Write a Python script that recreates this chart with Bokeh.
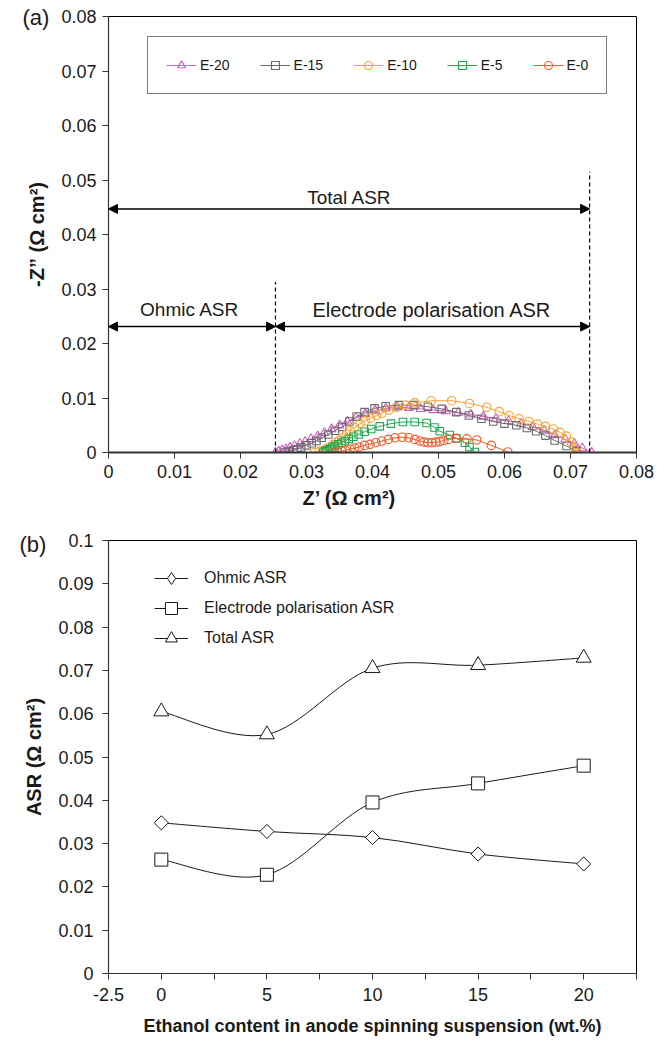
import numpy as np
from bokeh.plotting import figure
from bokeh.layouts import column
from bokeh.models import (ColumnDataSource, FixedTicker, Legend, LegendItem, Label,
                          Arrow, NormalHead, Range1d, Title)
from bokeh.embed import file_html
from bokeh.resources import INLINE

FONT = "Liberation Sans"

# ---------------- (a) impedance spectra: Z' and -Z'' (ohm cm2) ----------------
E20_ZRE = [0.0253, 0.0258, 0.0263, 0.0269, 0.0275, 0.0282, 0.0290, 0.0298, 0.0307, 0.0317,
           0.0327, 0.0338, 0.0350, 0.0362, 0.0375, 0.0389, 0.0404, 0.0420, 0.0437, 0.0455,
           0.0473, 0.0492, 0.0511, 0.0530, 0.0549, 0.0568, 0.0587, 0.0606, 0.0625, 0.0643,
           0.0660, 0.0676, 0.0692, 0.0706, 0.0718, 0.0732]
E20_ZIM = [0.0000, 0.0002, 0.0004, 0.0006, 0.0009, 0.0012, 0.0016, 0.0020, 0.0025, 0.0030,
           0.0036, 0.0043, 0.0050, 0.0057, 0.0064, 0.0071, 0.0077, 0.0081, 0.0083, 0.0082,
           0.0080, 0.0078, 0.0076, 0.0073, 0.0070, 0.0066, 0.0062, 0.0058, 0.0053, 0.0047,
           0.0040, 0.0032, 0.0024, 0.0016, 0.0008, 0.0000]

E15_ZRE = [0.0267, 0.0273, 0.0280, 0.0286, 0.0292, 0.0300, 0.0308, 0.0315, 0.0323, 0.0333,
           0.0343, 0.0354, 0.0365, 0.0376, 0.0388, 0.0403, 0.0420, 0.0440, 0.0462, 0.0484,
           0.0505, 0.0527, 0.0546, 0.0565, 0.0583, 0.0600, 0.0618, 0.0634, 0.0648, 0.0662,
           0.0676, 0.0694, 0.0709]
E15_ZIM = [0.0000, 0.0002, 0.0004, 0.0006, 0.0009, 0.0013, 0.0017, 0.0021, 0.0027, 0.0033,
           0.0040, 0.0047, 0.0057, 0.0066, 0.0074, 0.0081, 0.0085, 0.0087, 0.0087, 0.0084,
           0.0080, 0.0074, 0.0068, 0.0062, 0.0057, 0.0053, 0.0050, 0.0045, 0.0039, 0.0031,
           0.0022, 0.0012, 0.0002]

E10_ZRE = [0.0313, 0.0319, 0.0325, 0.0330, 0.0335, 0.0340, 0.0345, 0.0350, 0.0356, 0.0361,
           0.0366, 0.0373, 0.0381, 0.0389, 0.0397, 0.0406, 0.0414, 0.0425, 0.0436, 0.0450,
           0.0464, 0.0489, 0.0520, 0.0547, 0.0573, 0.0592, 0.0607, 0.0622, 0.0637, 0.0650,
           0.0662, 0.0674, 0.0684, 0.0694, 0.0701, 0.0705, 0.0710]
E10_ZIM = [0.0000, 0.0002, 0.0004, 0.0007, 0.0010, 0.0014, 0.0019, 0.0023, 0.0028, 0.0034,
           0.0040, 0.0046, 0.0053, 0.0058, 0.0063, 0.0068, 0.0072, 0.0078, 0.0083, 0.0087,
           0.0091, 0.0095, 0.0095, 0.0090, 0.0083, 0.0075, 0.0068, 0.0062, 0.0057, 0.0052,
           0.0048, 0.0043, 0.0037, 0.0030, 0.0019, 0.0010, 0.0000]

E5_ZRE = [0.0325, 0.0328, 0.0331, 0.0335, 0.0339, 0.0343, 0.0348, 0.0353, 0.0358, 0.0364,
          0.0371, 0.0379, 0.0388, 0.0398, 0.0411, 0.0428, 0.0446, 0.0464, 0.0482, 0.0494,
          0.0502, 0.0517, 0.0527, 0.0540, 0.0547, 0.0555]
E5_ZIM = [0.0000, 0.0002, 0.0004, 0.0006, 0.0009, 0.0012, 0.0015, 0.0018, 0.0021, 0.0025,
          0.0029, 0.0033, 0.0038, 0.0043, 0.0048, 0.0053, 0.0056, 0.0056, 0.0054, 0.0046,
          0.0039, 0.0032, 0.0026, 0.0018, 0.0010, 0.0001]

E0_ZRE = [0.0342, 0.0347, 0.0353, 0.0359, 0.0366, 0.0373, 0.0380, 0.0388, 0.0396, 0.0405,
          0.0414, 0.0424, 0.0434, 0.0445, 0.0455, 0.0464, 0.0472, 0.0478, 0.0484, 0.0490,
          0.0496, 0.0502, 0.0508, 0.0515, 0.0527, 0.0543, 0.0558, 0.0580, 0.0605]
E0_ZIM = [0.0000, 0.0001, 0.0003, 0.0004, 0.0006, 0.0008, 0.0010, 0.0013, 0.0015, 0.0018,
          0.0021, 0.0024, 0.0027, 0.0028, 0.0027, 0.0024, 0.0021, 0.0019, 0.0018, 0.0018,
          0.0019, 0.0020, 0.0022, 0.0024, 0.0026, 0.0025, 0.0023, 0.0013, 0.0001]

A_TICKS = [0.0, 0.01, 0.02, 0.03, 0.04, 0.05, 0.06, 0.07, 0.08]
A_TICK_LABELS = ["0", "0.01", "0.02", "0.03", "0.04", "0.05", "0.06", "0.07", "0.08"]

# ---------------- (b) ASR versus ethanol content ----------------
ETHANOL = [0, 5, 10, 15, 20]
OHMIC_ASR = [0.0348, 0.0328, 0.0314, 0.0276, 0.0253]
ELECTRODE_ASR = [0.0263, 0.0228, 0.0395, 0.0439, 0.0480]
TOTAL_ASR = [0.0605, 0.0552, 0.0705, 0.0712, 0.0729]

B_X_TICKS = [-2.5, 0.0, 2.5, 5.0, 7.5, 10.0, 12.5, 15.0, 17.5, 20.0, 22.5]
B_X_LABELS = ["-2.5", "0", "", "5", "", "10", "", "15", "", "20", ""]
B_Y_TICKS = [0.0, 0.01, 0.02, 0.03, 0.04, 0.05, 0.06, 0.07, 0.08, 0.09, 0.1]
B_Y_LABELS = ["0", "0.01", "0.02", "0.03", "0.04", "0.05", "0.06", "0.07", "0.08", "0.09", "0.1"]


def style_axes(p, tick_size, xtitle_size, ytitle_size):
    for ax, tsize in ((p.xaxis[0], xtitle_size), (p.yaxis[0], ytitle_size)):
        ax.axis_line_color = "#333333"
        ax.axis_line_width = 1.2
        ax.major_tick_line_color = "#333333"
        ax.major_tick_out = 6
        ax.major_tick_in = 0
        ax.minor_tick_out = 0
        ax.minor_tick_in = 0
        ax.major_label_text_font = FONT
        ax.major_label_text_font_size = tick_size
        ax.major_label_text_color = "#1a1a1a"
        ax.axis_label_text_font = FONT
        ax.axis_label_text_font_style = "bold"
        ax.axis_label_text_font_size = tsize
        ax.axis_label_text_color = "#1a1a1a"
    p.xgrid.visible = False
    p.ygrid.visible = False
    p.outline_line_color = "black"
    p.outline_line_width = 1


def panel_tag(p, text, offset, standoff):
    # tag sits in the top border, to the left of the frame
    p.add_layout(Title(text=text, align="left", offset=offset, standoff=standoff,
                       vertical_align="bottom", text_font=FONT, text_font_size="22px",
                       text_font_style="normal", text_color="#1a1a1a"), "above")


# ================= panel (a) =================
pa = figure(width=666, height=525, output_backend="svg", toolbar_location=None,
            x_range=Range1d(0, 0.08), y_range=Range1d(0, 0.08),
            min_border_left=107, min_border_right=30, min_border_top=16, min_border_bottom=73,
            y_axis_label="-Z” (Ω cm²)")
style_axes(pa, "18px", "20px", "20px")
pa.xaxis[0].major_label_standoff = 6
pa.yaxis[0].major_label_standoff = 6
pa.yaxis[0].axis_label_standoff = 10
pa.xaxis[0].ticker = FixedTicker(ticks=A_TICKS)
pa.yaxis[0].ticker = FixedTicker(ticks=A_TICKS)
pa.xaxis[0].major_label_overrides = dict(zip(A_TICKS, A_TICK_LABELS))
pa.yaxis[0].major_label_overrides = dict(zip(A_TICKS, A_TICK_LABELS))
pa.xaxis[0].axis_line_width = 2
# x title, set a little left of the frame centre
pa.add_layout(Title(text="Z’ (Ω cm²)", align="left", offset=194, standoff=12,
                    vertical_align="top", text_font=FONT, text_font_size="20px",
                    text_font_style="bold", text_color="#1a1a1a"), "below")

series_a = [
    ("E-20", E20_ZRE, E20_ZIM, "#cf5fbf", "triangle", 9),
    ("E-15", E15_ZRE, E15_ZIM, "#6a6a6a", "square", 7.5),
    ("E-10", E10_ZRE, E10_ZIM, "#f7a130", "circle", 8.5),
    ("E-5", E5_ZRE, E5_ZIM, "#1fa851", "square", 7.5),
    ("E-0", E0_ZRE, E0_ZIM, "#f15a29", "circle", 8.5),
]
items_a = []
for name, zre, zim, col, marker, size in series_a:
    src = ColumnDataSource(dict(x=zre, y=zim))
    ln = pa.line("x", "y", source=src, line_color=col, line_width=1)
    sc = pa.scatter("x", "y", source=src, marker=marker, size=size,
                    line_color=col, fill_color=None, line_width=1.1)
    items_a.append(LegendItem(label=name, renderers=[ln, sc]))

leg_a = Legend(items=items_a, orientation="horizontal", location=(39, 358),
               border_line_color="black", border_line_width=1, padding=18, margin=0,
               spacing=30, glyph_width=30, glyph_height=20, label_standoff=4,
               label_text_font=FONT, label_text_font_size="14px",
               label_text_color="#1a1a1a")
pa.add_layout(leg_a)

# ASR markers taken from the E-20 cell (last entry in panel b)
ohm_e20 = OHMIC_ASR[-1]
tot_e20 = TOTAL_ASR[-1]
pa.segment(x0=[ohm_e20, tot_e20], y0=[0, 0], x1=[ohm_e20, tot_e20], y1=[0.0313, 0.0515],
           line_color="black", line_width=1.2, line_dash="4 3")


def harrow(p, x0, x1, y):
    p.add_layout(Arrow(x_start=x0, x_end=x1, y_start=y, y_end=y, line_width=1.5,
                       line_color="black",
                       start=NormalHead(size=9, fill_color="black", line_color="black"),
                       end=NormalHead(size=9, fill_color="black", line_color="black")))


harrow(pa, 0, tot_e20, 0.0447)
harrow(pa, 0, ohm_e20, 0.0231)
harrow(pa, ohm_e20, tot_e20, 0.0231)

for tx, ty, txt, fs in [(0.0365, 0.0468, "Total ASR", "19px"),
                        (0.0123, 0.0262, "Ohmic ASR", "19px"),
                        (0.0490, 0.0262, "Electrode polarisation ASR", "20px")]:
    pa.add_layout(Label(x=tx, y=ty, text=txt, text_align="center", text_baseline="middle",
                        text_font=FONT, text_font_size=fs, text_color="#1a1a1a"))

panel_tag(pa, "(a)", -86, -26)

# ================= panel (b) =================
pb = figure(width=666, height=517, output_backend="svg", toolbar_location=None,
            x_range=Range1d(-2.5, 22.5), y_range=Range1d(0, 0.1),
            min_border_left=108, min_border_right=27, min_border_top=15, min_border_bottom=69,
            x_axis_label="Ethanol content in anode spinning suspension (wt.%)",
            y_axis_label="ASR (Ω cm²)")
style_axes(pb, "18px", "18px", "20px")
pb.xaxis[0].major_label_standoff = 8
pb.yaxis[0].major_label_standoff = 9
pb.xaxis[0].axis_label_standoff = 12
pb.yaxis[0].axis_label_standoff = 10
pb.xaxis[0].ticker = FixedTicker(ticks=B_X_TICKS)
pb.yaxis[0].ticker = FixedTicker(ticks=B_Y_TICKS)
pb.xaxis[0].major_label_overrides = dict(zip(B_X_TICKS, B_X_LABELS))
pb.yaxis[0].major_label_overrides = dict(zip(B_Y_TICKS, B_Y_LABELS))


def smooth_segments(xs, ys, t=1.0 / 6.0):
    """Cubic Bezier control points for a smoothed line through the points."""
    n = len(xs)
    out = dict(x0=[], y0=[], x1=[], y1=[], cx0=[], cy0=[], cx1=[], cy1=[])
    for i in range(n - 1):
        a = max(i - 1, 0)
        d = min(i + 2, n - 1)
        out["x0"].append(xs[i]); out["y0"].append(ys[i])
        out["x1"].append(xs[i + 1]); out["y1"].append(ys[i + 1])
        out["cx0"].append(xs[i] + (xs[i + 1] - xs[a]) * t)
        out["cy0"].append(ys[i] + (ys[i + 1] - ys[a]) * t)
        out["cx1"].append(xs[i + 1] - (xs[d] - xs[i]) * t)
        out["cy1"].append(ys[i + 1] - (ys[d] - ys[i]) * t)
    return out


# (name, values, plot marker, size, angle, legend marker)
series_b = [
    ("Ohmic ASR", OHMIC_ASR, "square", 10, np.pi / 4, "diamond"),
    ("Electrode polarisation ASR", ELECTRODE_ASR, "square", 13, 0.0, None),
    ("Total ASR", TOTAL_ASR, "triangle", 15, 0.0, None),
]
items_b = []
for name, vals, marker, size, ang, key_marker in series_b:
    pb.bezier(source=ColumnDataSource(smooth_segments(ETHANOL, vals)),
              x0="x0", y0="y0", x1="x1", y1="y1", cx0="cx0", cy0="cy0", cx1="cx1", cy1="cy1",
              line_color="#1a1a1a", line_width=1)
    # one-point line: supplies the legend's line sample only
    key_line = pb.line(x=ETHANOL[:1], y=vals[:1], line_color="#1a1a1a", line_width=1)
    renderers = [key_line]
    if key_marker is not None:
        # legend-shaped marker, sits fully beneath the rotated square drawn next
        renderers.append(pb.scatter(x=ETHANOL, y=vals, marker=key_marker, size=size + 3,
                                    line_color="#1a1a1a", fill_color="white", line_width=1))
    sc = pb.scatter(x=ETHANOL, y=vals, marker=marker, size=size, angle=ang,
                    line_color="#1a1a1a", fill_color="white", line_width=1)
    if key_marker is None:
        renderers.append(sc)
    items_b.append(LegendItem(label=name, renderers=renderers))

leg_b = Legend(items=items_b, orientation="vertical", location=(42, 316),
               border_line_alpha=0, background_fill_alpha=0, padding=4, margin=0,
               spacing=0, glyph_width=34, glyph_height=30, label_standoff=16,
               label_text_font=FONT, label_text_font_size="16px",
               label_text_color="#1a1a1a")
pb.add_layout(leg_b)

panel_tag(pb, "(b)", -89, -32)

layout = column(pa, pb, spacing=0)
open("out.html", "w").write(file_html(layout, INLINE))
